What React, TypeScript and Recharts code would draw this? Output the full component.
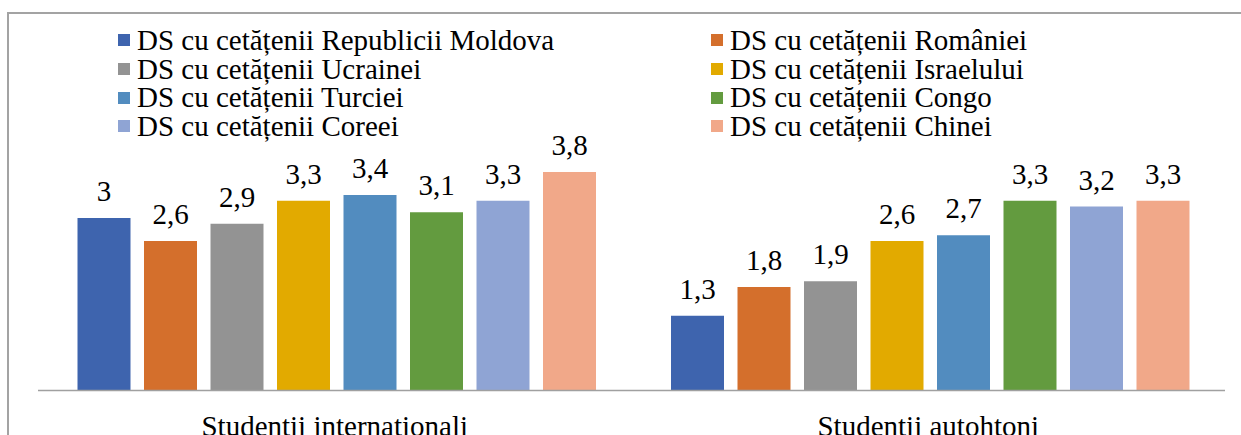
import React from 'react';
import { BarChart, Bar, XAxis, YAxis, Legend, LabelList } from 'recharts';

const categories = ['Studentii internationali', 'Studentii autohtoni'];

const seriesNames = [
    'DS cu cetățenii Republicii Moldova',
    'DS cu cetățenii României',
    'DS cu cetățenii Ucrainei',
    'DS cu cetățenii Israelului',
    'DS cu cetățenii Turciei',
    'DS cu cetățenii Congo',
    'DS cu cetățenii Coreei',
    'DS cu cetățenii Chinei'
];

const moldova = [3, 1.3];
const romania = [2.6, 1.8];
const ucraina = [2.9, 1.9];
const israel = [3.3, 2.6];
const turcia = [3.4, 2.7];
const congo = [3.1, 3.3];
const coreea = [3.3, 3.2];
const china = [3.8, 3.3];

const seriesValues = [moldova, romania, ucraina, israel, turcia, congo, coreea, china];

const COLORS = ['#3e64ae', '#d46f2c', '#939393', '#e2aa00', '#528cbf', '#639b3f', '#8fa4d4', '#f1a889'];

const FONT = '"Liberation Serif", "Times New Roman", serif';

const data = categories.map((name, i) => {
    const row: any = { name };
    seriesNames.forEach((s, j) => {
        row['s' + j] = seriesValues[j][i];
    });
    return row;
});

// values are shown with a decimal comma
const fmt = (v: any) => String(v).replace('.', ',');

// two-column legend, filled row by row like the original
const renderLegend = () => (
    <div
        style={{
            display: 'grid',
            gridTemplateColumns: '593px 593px',
            gridAutoRows: '28.7px',
            paddingLeft: 118,
            fontFamily: FONT,
            fontSize: 29,
            color: '#000'
        }}
    >
        {seriesNames.map((name, i) => (
            <div key={`leg-${i}`} style={{ display: 'flex', alignItems: 'center', lineHeight: '28.7px', whiteSpace: 'nowrap' }}>
                <span style={{ width: 12, height: 12, background: COLORS[i], marginRight: 7, display: 'inline-block' }}></span>
                <span>{name}</span>
            </div>
        ))}
    </div>
);

const CategoryTick = (props: any) => {
    const { x, y, payload } = props;
    return (
        <text x={x} y={y} dy={45} textAnchor="middle" fontFamily={FONT} fontSize={29} fill="#000">
            {payload.value}
        </text>
    );
};

const App = () => {
    return (
        <div style={{ position: 'absolute', left: 0, top: 0, width: 1241, height: 435, overflow: 'hidden', background: '#fff' }}>
            <div
                style={{
                    position: 'absolute',
                    left: 7,
                    top: 12,
                    width: 1300,
                    height: 500,
                    borderTop: '2px solid #a3a3a3',
                    borderLeft: '2px solid #a3a3a3'
                }}
            ></div>
            <div style={{ position: 'absolute', left: 0, top: 0 }}>
                <BarChart
                    width={1241}
                    height={435}
                    data={data}
                    margin={{ top: 160.5, right: 16, bottom: 4.5, left: 38 }}
                    barCategoryGap={39.5}
                    barGap={13.5}
                >
                    <XAxis
                        dataKey="name"
                        height={40}
                        tickLine={false}
                        tickSize={0}
                        tickMargin={0}
                        axisLine={{ stroke: '#a0a0a0', strokeWidth: 1.5 }}
                        tick={<CategoryTick />}
                        interval={0}
                    />
                    <YAxis hide domain={[0, 4]} />
                    <Legend
                        content={renderLegend}
                        layout="horizontal"
                        verticalAlign="middle"
                        align="center"
                        wrapperStyle={{ position: 'absolute', left: 0, top: 26, width: 1241 }}
                    />
                    {seriesNames.map((s, j) => (
                        <Bar key={s} dataKey={'s' + j} name={s} fill={COLORS[j]} isAnimationActive={false}>
                            <LabelList
                                dataKey={'s' + j}
                                position="top"
                                offset={17}
                                formatter={fmt}
                                style={{ fontFamily: FONT, fontSize: 29, fill: '#000' }}
                            />
                        </Bar>
                    ))}
                </BarChart>
            </div>
        </div>
    );
};

export default App;
